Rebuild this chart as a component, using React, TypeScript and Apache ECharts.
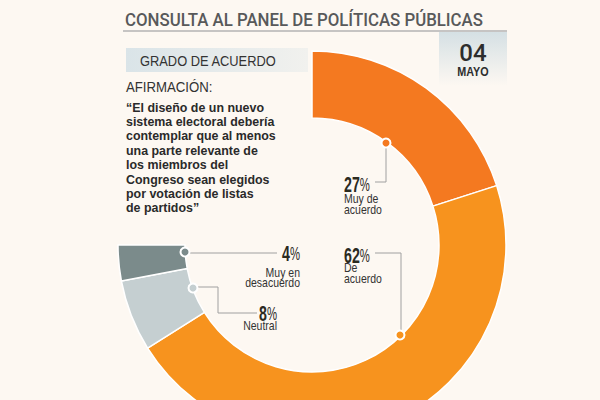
import React, { useEffect, useRef } from "react";
import * as echarts from "echarts";

const categories = ["Muy de acuerdo", "De acuerdo", "Neutral", "Muy en desacuerdo"];
const values = [27, 62, 8, 4];
const labelLines = ["Muy de\nacuerdo", "De\nacuerdo", "Neutral", "Muy en\ndesacuerdo"];
const colors = ["#f47920", "#f7931e", "#c5cfd1", "#7b8b8b"];

const title = "CONSULTA AL PANEL DE POLÍTICAS PÚBLICAS";
const subtitle = "GRADO DE ACUERDO";
const dateDay = "04";
const dateMonth = "MAYO";
const statementTitle = "AFIRMACIÓN:";
const statementLines = [
  "“El diseño de un nuevo",
  "sistema electoral debería",
  "contemplar que al menos",
  "una parte relevante de",
  "los miembros del",
  "Congreso sean elegidos",
  "por votación de listas",
  "de partidos”",
];

const BG = "#fdf8f2";
const FONT = "'Liberation Sans', Arial, sans-serif";
const FONT2 = "Roboto, 'Liberation Sans', sans-serif";

function txt(x: number, y: number, text: string, o: any = {}) {
  return {
    type: "text",
    x,
    y,
    scaleX: o.scaleX ?? 1,
    silent: true,
    z: 10,
    style: {
      text,
      fontSize: o.size ?? 12,
      fontFamily: o.family ?? FONT,
      fontWeight: o.weight ?? "normal",
      fill: o.color ?? "#333",
      align: o.align ?? "left",
      verticalAlign: o.valign ?? "middle",
      lineHeight: o.lh,
      rich: o.rich,
    },
  };
}

// callout layout: marker, polyline, text anchor
const callouts = [
  { marker: [386, 143], line: [[386, 147], [386, 182], [375, 182]], tx: 344, ty: 184, align: "left", subY: 204 },
  { marker: [400, 335], line: [[375, 253], [401, 253], [401, 330]], tx: 344, ty: 255, align: "left", subY: 273 },
  { marker: [193, 288], line: [[197, 287], [218, 287], [218, 313], [257, 313]], tx: 277, ty: 313, align: "right", subY: 326 },
  { marker: [185, 252], line: [[189, 253], [277, 253]], tx: 300, ty: 253.5, align: "right", subY: 277.5 },
];

export default function App() {
  const ref = useRef<HTMLDivElement>(null);
  useEffect(() => {
    document.body.style.margin = "0";
    const chart = echarts.init(ref.current!, null, { renderer: "svg" });
    const graphics: any[] = [];
    // title
    graphics.push(txt(125, 19.5, title, { size: 18.5, family: FONT2, weight: 500, color: "#58595a", scaleX: 0.91 }));
    graphics.push({ type: "line", shape: { x1: 123, y1: 31, x2: 507, y2: 31 }, style: { stroke: "#b3b3b3", lineWidth: 1.5 }, silent: true });
    // date box
    graphics.push({
      type: "rect", shape: { x: 439, y: 32, width: 68, height: 54 }, silent: true,
      style: { fill: new echarts.graphic.LinearGradient(0, 0, 0, 1, [{ offset: 0, color: "#d5e0e4" }, { offset: 1, color: BG }]) },
    });
    graphics.push(txt(473, 52.5, dateDay, { size: 24, family: FONT2, weight: 500, color: "#2d2d2d", align: "center" }));
    graphics.push(txt(473, 72, dateMonth, { size: 12, weight: "bold", color: "#2d2d2d", align: "center", scaleX: 0.9 }));
    graphics.push({
      type: "rect", shape: { x: 126, y: 48, width: 182, height: 24 }, silent: true,
      style: { fill: new echarts.graphic.LinearGradient(0, 0, 1, 0, [{ offset: 0, color: "#dae4e8" }, { offset: 1, color: "#f1f1ee" }]) },
    });
    graphics.push(txt(140, 60.5, subtitle, { size: 15.5, color: "#333", scaleX: 0.83 }));
    graphics.push(txt(126, 87, statementTitle, { size: 15, color: "#333", scaleX: 0.88 }));
    statementLines.forEach((l, i) => {
      graphics.push(txt(126, 107 + i * 14.4, l, { size: 13.5, weight: "bold", color: "#2a2a2a", scaleX: 0.92 }));
    });
    // callouts
    callouts.forEach((c, i) => {
      graphics.push({ type: "polyline", shape: { points: c.line }, style: { stroke: "#a0a0a0", lineWidth: 1, fill: null }, silent: true, z: 5 });
      graphics.push({ type: "circle", shape: { cx: c.marker[0], cy: c.marker[1], r: 4.5 }, style: { fill: colors[i], stroke: "#ffffff", lineWidth: 2 }, silent: true, z: 6 });
      graphics.push(txt(c.tx, c.ty, `{n|${values[i]}}{p|%}`, {
        align: c.align, scaleX: 0.63, color: "#2b2a1f",
        rich: {
          n: { fontSize: 22.5, fontWeight: "bold", fontFamily: FONT, fill: "#2b2a1f" },
          p: { fontSize: 18, fontFamily: FONT, fill: "#2b2a1f" },
        },
      }));
      graphics.push(txt(c.tx, c.subY, labelLines[i], { size: 12.5, lh: 10.5, align: c.align, scaleX: 0.84, color: "#333" }));
    });

    chart.setOption({
      animation: false,
      backgroundColor: BG,
      series: [
        {
          type: "pie",
          center: [312, 245],
          radius: [127, 194],
          startAngle: 90,
          endAngle: -180,
          clockwise: true,
          label: { show: false },
          labelLine: { show: false },
          emphasis: { disabled: true },
          itemStyle: { borderColor: "#ffffff", borderWidth: 1.5 },
          data: categories.map((name, i) => ({ name, value: values[i], itemStyle: { color: colors[i] } })),
        },
      ],
      graphic: graphics,
    });
    return () => chart.dispose();
  }, []);
  return <div ref={ref} style={{ width: 600, height: 400 }} />;
}
